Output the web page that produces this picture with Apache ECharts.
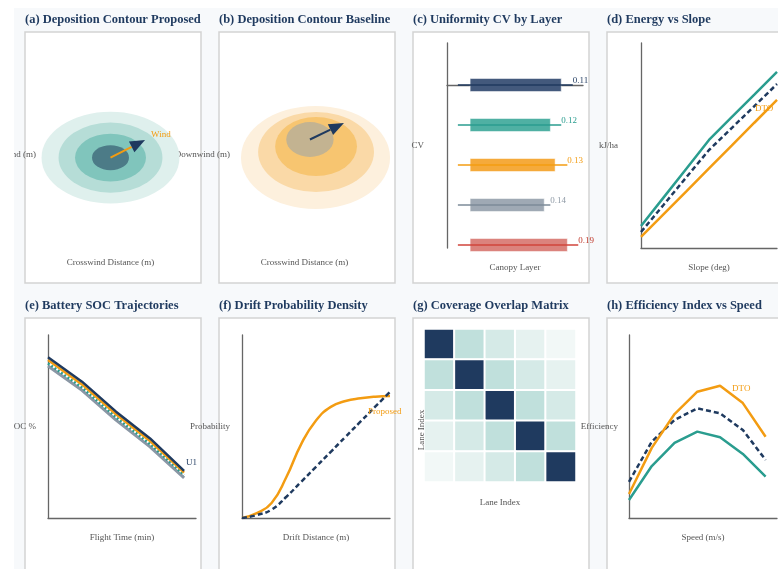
<!DOCTYPE html>
<html>
<head>
<meta charset="utf-8">
<title>Spraying UAV comparison panels</title>
<script src="https://cdn.jsdelivr.net/npm/echarts@6/dist/echarts.min.js"></script>
<style>
  html, body { margin: 0; padding: 0; background: #fff; }
  #main { width: 778px; height: 569px; }
</style>
</head>
<body>
<div id="main"></div>
<script>
// ---------------- data ----------------
var panelTitles = [
  '(a) Deposition Contour Proposed', '(b) Deposition Contour Baseline',
  '(c) Uniformity CV by Layer', '(d) Energy vs Slope',
  '(e) Battery SOC Trajectories', '(f) Drift Probability Density',
  '(g) Coverage Overlap Matrix', '(h) Efficiency Index vs Speed'
];

// (a)/(b) deposition rings: [centerX, centerY, semiAxisX, semiAxisY] in metres
var ringsProposed = [[0, -1.5, 50.7, 26.1], [0, -1.5, 38.2, 19.9], [0, -1.5, 26.1, 13.6], [0, -1.5, 13.6, 7.1]];
var ringsBaseline = [[8.1, -1.4, 54.8, 29.3], [8.5, 1.7, 42.6, 22.7], [8.5, 4.8, 30.1, 16.8], [4, 8.8, 17.4, 9.9]];
// wind vector: [x0, y0, x1, y1]
var windProposed = [0, -1.5, 25.4, 8.5];
var windBaseline = [4, 8.8, 29, 18.2];

// (c) uniformity per canopy layer
var layers = [0, 1, 2, 3, 4];
var cvValues = [0.11, 0.12, 0.13, 0.14, 0.19];
var whiskerLow = [0.016, 0.016, 0.016, 0.016, 0.016];
var boxLow = [0.034, 0.034, 0.034, 0.034, 0.034];
var boxHigh = [0.168, 0.152, 0.159, 0.143, 0.177];
var whiskerHigh = [0.185, 0.168, 0.177, 0.152, 0.193];

// (d) energy vs slope
var slopeDeg = [0, 5, 10, 15, 20, 25, 30];
var energyTeal = [10.7, 24.7, 38.7, 52.7, 63.8, 74.8, 85.9];
var energyNavy = [7.8, 21.1, 34.5, 47.8, 58.5, 69.2, 80.0];
var energyDTO = [5.4, 16.5, 27.6, 38.8, 49.9, 61.1, 72.2];

// (e) battery SOC
var flightTime = [0, 10, 20, 30, 40];
var socU1 = [87.8, 74.5, 58.1, 43.5, 25.8];
var socU2 = [86.3, 73.0, 56.7, 42.0, 24.8];
var socU3 = [84.5, 71.3, 55.0, 40.4, 23.5];
var socU4 = [83.1, 69.8, 53.5, 38.9, 21.9];

// (f) drift probability
var driftDist = [0, 5, 10, 15, 20, 25, 30, 35, 40, 45, 50];
var driftProposed = [0, 0.027, 0.082, 0.224, 0.404, 0.533, 0.607, 0.639, 0.654, 0.663, 0.667];
var driftBaseline = [0, 0.016, 0.046, 0.116, 0.198, 0.280, 0.362, 0.444, 0.526, 0.608, 0.690];

// (g) coverage overlap between lanes
var lanes = ['1', '2', '3', '4', '5'];
var overlap = [
  [1.00, 0.30, 0.20, 0.10, 0.05],
  [0.30, 1.00, 0.30, 0.20, 0.10],
  [0.20, 0.30, 1.00, 0.30, 0.20],
  [0.10, 0.20, 0.30, 1.00, 0.30],
  [0.05, 0.10, 0.20, 0.30, 1.00]
];

// (h) efficiency vs speed
var speed = [2, 3, 4, 5, 6, 7, 8];
var effDTO = [0.131, 0.383, 0.568, 0.690, 0.723, 0.628, 0.444];
var effBase = [0.198, 0.417, 0.536, 0.599, 0.572, 0.481, 0.317];
var effAlt = [0.098, 0.284, 0.411, 0.472, 0.441, 0.350, 0.226];

// ---------------- styling ----------------
var NAVY = '#1f3a5f', TEAL = '#2a9d8f', ORANGE = '#f39c12', GRAY = '#8a97a5', RED = '#d0453b';
var SERIF = '"Liberation Serif", "Times New Roman", serif';
var ringColorsA = ['#dff0ed', '#b6ddd7', '#80c5bc', '#4c7b87'];
var ringColorsB = ['#fdf0dd', '#fad9a7', '#f7c570', '#c3b391'];
var boxColors = ['#43597c', '#4fb0a3', '#f5aa3b', '#9fa9b4', '#db837d'];
var lineColors = [NAVY, TEAL, ORANGE, '#7d8b99', RED];
var labelColors = [NAVY, TEAL, ORANGE, '#8f9aa6', '#c0392b'];

var frames = [
  [25, 32, 176, 251], [219, 32, 176, 251], [413, 32, 176, 251], [607, 32, 176, 251],
  [25, 318, 176, 260], [219, 318, 176, 260], [413, 318, 176, 260], [607, 318, 176, 260]
];

function zip(xs, ys) { return xs.map(function (x, i) { return [x, ys[i]]; }); }

var nameStyle = { fontFamily: SERIF, fontSize: 9, color: '#555' };
var axisLineStyle = { show: true, lineStyle: { color: '#666', width: 1.3 } };

function xAx(grid, opt) {
  return Object.assign({
    type: 'value', gridIndex: grid, nameLocation: 'middle', nameGap: 15, nameMoveOverlap: false,
    nameTextStyle: nameStyle, axisLine: axisLineStyle, axisTick: { show: false },
    axisLabel: { show: false }, splitLine: { show: false }
  }, opt);
}
function yAx(grid, opt) {
  return Object.assign({
    type: 'value', gridIndex: grid, nameLocation: 'middle', nameRotate: 0, nameMoveOverlap: false,
    nameTextStyle: nameStyle, axisLine: axisLineStyle, axisTick: { show: false },
    axisLabel: { show: false }, splitLine: { show: false }
  }, opt);
}
function gridAt(left, top, width, height) {
  return { left: left, top: top, width: width, height: height, outerBoundsMode: 'none', containLabel: false };
}

function ringRenderer(colors) {
  return function (params, api) {
    var c = api.coord([api.value(0), api.value(1)]);
    var s = api.size([api.value(2), api.value(3)]);
    return {
      type: 'circle', shape: { cx: 0, cy: 0, r: 1 },
      x: c[0], y: c[1], scaleX: s[0], scaleY: s[1],
      style: { fill: colors[params.dataIndex] }
    };
  };
}

function arrowRenderer(shaftColor, label) {
  return function (params, api) {
    var p0 = api.coord([api.value(0), api.value(1)]);
    var p1 = api.coord([api.value(2), api.value(3)]);
    var ang = Math.atan2(p1[1] - p0[1], p1[0] - p0[0]);
    var L = 15, W = 6;
    var bx = p1[0] - L * Math.cos(ang), by = p1[1] - L * Math.sin(ang);
    var nx = -Math.sin(ang) * W, ny = Math.cos(ang) * W;
    var kids = [
      { type: 'line', shape: { x1: p0[0], y1: p0[1], x2: bx, y2: by }, style: { stroke: shaftColor, lineWidth: 2 } },
      { type: 'polygon', shape: { points: [[p1[0], p1[1]], [bx + nx, by + ny], [bx - nx, by - ny]] }, style: { fill: NAVY } }
    ];
    if (label) {
      kids.push({ type: 'text', x: p1[0] + 6, y: p1[1] - 5,
        style: { text: label, fill: ORANGE, fontFamily: SERIF, fontSize: 9, align: 'left', verticalAlign: 'middle' } });
    }
    return { type: 'group', children: kids };
  };
}

function renderLayer(params, api) {
  var i = params.dataIndex;
  var y = api.value(0);
  var wl = api.coord([api.value(1), y]);
  var wh = api.coord([api.value(4), y]);
  var b0 = api.coord([api.value(2), y - 0.1625]);
  var b1 = api.coord([api.value(3), y + 0.1625]);
  return {
    type: 'group', children: [
      { type: 'rect', shape: { x: b0[0], y: Math.min(b0[1], b1[1]), width: b1[0] - b0[0], height: Math.abs(b1[1] - b0[1]) },
        style: { fill: boxColors[i], stroke: 'rgba(255,255,255,0.5)', lineWidth: 1 } },
      { type: 'line', shape: { x1: wl[0], y1: wl[1], x2: wh[0], y2: wh[1] }, style: { stroke: lineColors[i], lineWidth: 1.3 } },
      { type: 'text', x: wh[0], y: wh[1] - 4.5,
        style: { text: api.value(5).toFixed(2), fill: labelColors[i], fontFamily: SERIF, fontSize: 9, align: 'left', verticalAlign: 'middle' } }
    ]
  };
}

function endTag(text, color, point, offset) {
  return {
    symbol: 'rect', symbolSize: 1, silent: true,
    itemStyle: { color: 'rgba(0,0,0,0)' },
    label: { show: true, position: 'inside', formatter: text, color: color, fontFamily: SERIF, fontSize: 9,
      align: 'left', verticalAlign: 'middle', offset: offset },
    data: [{ coord: point }]
  };
}

var heatData = [];
overlap.forEach(function (row, i) { row.forEach(function (v, j) { heatData.push([j, i, v]); }); });

var graphics = [];
frames.forEach(function (f, k) {
  graphics.push({ type: 'rect', z: -10, shape: { x: f[0], y: f[1], width: f[2], height: f[3] },
    style: { fill: '#fff', stroke: '#d3d3d3', lineWidth: 1.5 }, silent: true });
  graphics.push({ type: 'text', x: f[0], y: f[1] - 12,
    style: { text: panelTitles[k], fill: NAVY, fontFamily: SERIF, fontWeight: 'bold', fontSize: 12.5,
      align: 'left', verticalAlign: 'middle' } });
});
graphics.push({ type: 'text', x: 422, y: 430, rotation: Math.PI / 2, z: 100,
  style: { text: 'Lane Index', fill: '#555', fontFamily: SERIF, fontSize: 9, align: 'center', verticalAlign: 'middle' } });
// white page margin, drawn over anything that spills out of the figure
graphics.push({ type: 'rect', z: 200, shape: { x: 0, y: 0, width: 778, height: 8 }, style: { fill: '#fff' }, silent: true });
graphics.push({ type: 'rect', z: 200, shape: { x: 0, y: 0, width: 14, height: 569 }, style: { fill: '#fff' }, silent: true });

var chart = echarts.init(document.getElementById('main'));
chart.setOption({
  animation: false,
  backgroundColor: '#f7f9fb',
  graphic: graphics,
  grid: [
    gridAt(42.5, 67, 136, 176),
    gridAt(236.5, 67, 136, 176),
    gridAt(447, 43, 136, 205),
    gridAt(641, 43, 136, 205),
    gridAt(48, 335, 148, 183),
    gridAt(242, 335, 148, 183),
    gridAt(424, 329, 152, 153),
    gridAt(629, 335, 148, 183)
  ],
  xAxis: [
    xAx(0, { min: -50, max: 50, name: 'Crosswind Distance (m)', axisLine: { show: false } }),
    xAx(1, { min: -50, max: 50, name: 'Crosswind Distance (m)', axisLine: { show: false } }),
    xAx(2, { min: 0, max: 0.2, name: 'Canopy Layer' }),
    xAx(3, { min: 0, max: 30, name: 'Slope (deg)' }),
    xAx(4, { min: 0, max: 43.5, name: 'Flight Time (min)' }),
    xAx(5, { min: 0, max: 50, name: 'Drift Distance (m)' }),
    xAx(6, { type: 'category', data: lanes, name: 'Lane Index', nameGap: 16, axisLine: { show: false } }),
    xAx(7, { min: 2, max: 8.5, name: 'Speed (m/s)' })
  ],
  yAxis: [
    yAx(0, { min: -50, max: 50, name: 'Downwind (m)', nameGap: 6.5, axisLine: { show: false } }),
    yAx(1, { min: -50, max: 50, name: 'Downwind (m)', nameGap: 6.5, axisLine: { show: false } }),
    yAx(2, { min: -1.05, max: 4.075, inverse: true, name: 'CV', nameGap: 23 }),
    yAx(3, { min: 0, max: 100, name: 'kJ/ha', nameGap: 23 }),
    yAx(4, { min: 0, max: 100, name: 'SOC %', nameGap: 12 }),
    yAx(5, { min: 0, max: 1, name: 'Probability', nameGap: 12 }),
    yAx(6, { type: 'category', data: lanes, inverse: true, axisLine: { show: false } }),
    yAx(7, { min: 0, max: 1, name: 'Efficiency', nameGap: 11 })
  ],
  visualMap: {
    type: 'piecewise', show: false, seriesIndex: 10, dimension: 2,
    pieces: [
      { min: 0.9, color: NAVY },
      { min: 0.25, max: 0.9, color: '#c0e0dc' },
      { min: 0.15, max: 0.25, color: '#d5eae7' },
      { min: 0.08, max: 0.15, color: '#e6f2f0' },
      { max: 0.08, color: '#f2f8f7' }
    ]
  },
  series: [
    // 0-1: (a)
    { type: 'custom', xAxisIndex: 0, yAxisIndex: 0, clip: false, renderItem: ringRenderer(ringColorsA), data: ringsProposed },
    { type: 'custom', xAxisIndex: 0, yAxisIndex: 0, clip: false, renderItem: arrowRenderer(ORANGE, 'Wind'), data: [windProposed] },
    // 2-3: (b)
    { type: 'custom', xAxisIndex: 1, yAxisIndex: 1, clip: false, renderItem: ringRenderer(ringColorsB), data: ringsBaseline },
    { type: 'custom', xAxisIndex: 1, yAxisIndex: 1, clip: false, renderItem: arrowRenderer(NAVY, ''), data: [windBaseline] },
    // 4: (c)
    { type: 'custom', xAxisIndex: 2, yAxisIndex: 2, clip: false, renderItem: renderLayer,
      encode: { x: [1, 2, 3, 4], y: 0 },
      data: layers.map(function (l, i) { return [l, whiskerLow[i], boxLow[i], boxHigh[i], whiskerHigh[i], cvValues[i]]; }) },
    // 5-7: (d)
    { name: 'Proposed', type: 'line', xAxisIndex: 3, yAxisIndex: 3, symbol: 'none', data: zip(slopeDeg, energyTeal),
      lineStyle: { color: TEAL, width: 2.5 } },
    { name: 'Baseline', type: 'line', xAxisIndex: 3, yAxisIndex: 3, symbol: 'none', data: zip(slopeDeg, energyNavy),
      lineStyle: { color: NAVY, width: 2.5, type: [5, 3] } },
    { name: 'DTO', type: 'line', xAxisIndex: 3, yAxisIndex: 3, symbol: 'none', data: zip(slopeDeg, energyDTO),
      lineStyle: { color: ORANGE, width: 2.5 },
      markPoint: endTag('DTO', ORANGE, [slopeDeg[6], energyDTO[6]], [-22, 9]) },
    // 8-9: (f)
    { name: 'Proposed', type: 'line', xAxisIndex: 5, yAxisIndex: 5, symbol: 'none', smooth: true,
      data: zip(driftDist, driftProposed), lineStyle: { color: ORANGE, width: 2.5 },
      markPoint: endTag('Proposed', ORANGE, [driftDist[10], driftProposed[10]], [-22, 16]) },
    { name: 'Baseline', type: 'line', xAxisIndex: 5, yAxisIndex: 5, symbol: 'none', smooth: true,
      data: zip(driftDist, driftBaseline), lineStyle: { color: NAVY, width: 2.5, type: [5, 3] } },
    // 10: (g)
    { type: 'heatmap', xAxisIndex: 6, yAxisIndex: 6, data: heatData,
      itemStyle: { borderColor: '#fff', borderWidth: 2 } },
    // 11-14: (e)
    { name: 'U4', type: 'line', xAxisIndex: 4, yAxisIndex: 4, symbol: 'none', data: zip(flightTime, socU4),
      lineStyle: { color: GRAY, width: 3 } },
    { name: 'U3', type: 'line', xAxisIndex: 4, yAxisIndex: 4, symbol: 'none', data: zip(flightTime, socU3),
      lineStyle: { color: TEAL, width: 2.5, type: [2, 2] } },
    { name: 'U2', type: 'line', xAxisIndex: 4, yAxisIndex: 4, symbol: 'none', data: zip(flightTime, socU2),
      lineStyle: { color: ORANGE, width: 2.5 } },
    { name: 'U1', type: 'line', xAxisIndex: 4, yAxisIndex: 4, symbol: 'none', data: zip(flightTime, socU1),
      lineStyle: { color: NAVY, width: 2.5 },
      markPoint: endTag('U1', NAVY, [flightTime[4], socU1[4]], [2, -8]) },
    // 15-17: (h)
    { name: 'Alt', type: 'line', xAxisIndex: 7, yAxisIndex: 7, symbol: 'none', data: zip(speed, effAlt),
      lineStyle: { color: TEAL, width: 2.5 } },
    { name: 'Baseline', type: 'line', xAxisIndex: 7, yAxisIndex: 7, symbol: 'none', data: zip(speed, effBase),
      lineStyle: { color: NAVY, width: 2.5, type: [5, 3] } },
    { name: 'DTO', type: 'line', xAxisIndex: 7, yAxisIndex: 7, symbol: 'none', data: zip(speed, effDTO),
      lineStyle: { color: ORANGE, width: 2.5 },
      markPoint: endTag('DTO', ORANGE, [speed[4], effDTO[4]], [12, 3]) }
  ]
});
</script>
</body>
</html>
